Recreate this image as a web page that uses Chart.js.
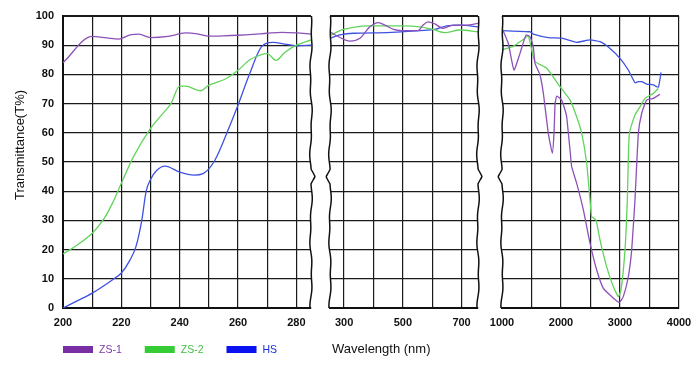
<!DOCTYPE html>
<html>
<head>
<meta charset="utf-8">
<script src="https://cdn.jsdelivr.net/npm/chart.js@4.4.1/dist/chart.umd.min.js"></script>
<style>
  body { margin: 0; background: #fff; }
  #wrap { position: relative; width: 700px; height: 371px; }
  #wrap canvas { position: absolute; left: 0; top: 0; }
</style>
</head>
<body>
<div id="wrap">
  <canvas id="uv" width="700" height="371"></canvas>
  <canvas id="vis" width="700" height="371"></canvas>
  <canvas id="ir" width="700" height="371"></canvas>
</div>
<script>
var seriesNames = ['ZS-1', 'ZS-2', 'HS'];
var lineColors = ['#8c52b8', '#62d45c', '#3f52e2'];
var boxColors = ['#7a2ea3', '#35cc35', '#0a12f2'];
var textColors = ['#7b3aa8', '#44c044', '#1a2ae0'];

// grid positions and the labels shown under each panel
var uvGridTicks = [200, 210, 220, 230, 240, 250, 260, 270, 280];
var uvTickLabels = [200, 220, 240, 260, 280];
var visGridTicks = [300, 400, 500, 600, 700];
var visTickLabels = [300, 500, 700];
var irGridTicks = [1000, 1500, 2000, 2500, 3000, 3500, 4000];
var irTickLabels = [1000, 2000, 3000, 4000];

// panel 1 : 200 - 285 nm
var uvWaveZS1 = [200, 210, 215, 219, 223, 226, 230, 236, 242, 246, 250, 255, 260, 265, 270, 275, 280, 285];
var uvZS1 = [84, 93, 92.5, 92.1, 93.5, 93.8, 92.6, 93, 94.2, 93.9, 93.1, 93.2, 93.4, 93.7, 94.1, 94.4, 94.2, 93.8];
var uvWaveZS2 = [200, 204, 210, 214, 217, 220, 224, 230, 235, 237, 240, 242, 247, 250, 256, 260, 264, 268, 270, 273, 276, 280, 285];
var uvZS2 = [18.5, 21, 25.6, 30.5, 36, 42.7, 51.5, 61.5, 67.5, 70, 76, 76, 74.4, 76.3, 78.6, 81.4, 85, 86.8, 87.1, 84.8, 87.5, 90, 91.8];
var uvWaveHS = [200, 205, 210, 217, 220, 223, 225, 227, 228.5, 230, 232, 235, 240, 245, 248, 252, 257, 260, 264, 268, 272, 276, 280, 285];
var uvHS = [0, 2.5, 5.1, 9.7, 12, 16.5, 21, 30, 40, 44, 47, 48.6, 46.5, 45.5, 46, 50.5, 62, 69.5, 80.3, 89.4, 91, 90.4, 89.8, 90];

// panel 2 : visible
var visWaveZS1 = [252, 281, 320, 354, 388, 417, 439, 468, 496, 552, 569, 586, 609, 637, 671, 717, 756];
var visZS1 = [94.6, 92.9, 91.4, 92.4, 96.3, 97.7, 96.9, 95.4, 95, 95, 96.9, 98, 97.3, 95.8, 96.9, 96.9, 97.5];
var visWaveZS2 = [252, 286, 332, 388, 502, 558, 603, 643, 694, 756];
var visZS2 = [93.3, 95, 96.1, 96.6, 96.6, 96.3, 95.4, 94.3, 95.2, 94.6];
var visWaveHS = [252, 286, 332, 445, 558, 609, 649, 694, 756];
var visHS = [92.4, 93.5, 94.1, 94.3, 95, 95.4, 96.6, 96.9, 96.3];

// panel 3 : infrared
var irWaveZS1 = [1000, 1107, 1203, 1305, 1407, 1475, 1530, 1560, 1644, 1701, 1785, 1853, 1882, 1900, 1930, 2011, 2068, 2096, 2153, 2181, 2266, 2379, 2492, 2605, 2718, 2859, 2988, 3056, 3141, 3198, 3254, 3311, 3368, 3452, 3565, 3678];
var irZS1 = [95.8, 90.6, 81.5, 87.2, 93.5, 92.9, 89.5, 83.8, 79.8, 73.5, 59.8, 53, 60, 70, 72.6, 71.2, 67.8, 65.5, 54.1, 48.4, 42.7, 33.6, 22.2, 13, 6.7, 3.9, 1.9, 3.9, 10.7, 19.9, 37, 59.8, 66.7, 71.2, 71.8, 73.2];
var irWaveZS2 = [1000, 1193, 1390, 1447, 1503, 1560, 1758, 1983, 2153, 2265, 2351, 2436, 2492, 2520, 2593, 2661, 2774, 2887, 2972, 3017, 3085, 3124, 3158, 3254, 3339, 3424, 3565, 3650];
var irZS2 = [88.4, 89.7, 92.4, 93.2, 88.4, 84.4, 82.1, 75.8, 71.2, 65.5, 59.8, 49.5, 37, 31.3, 30.1, 23.3, 14.1, 7.3, 3.9, 6.2, 19.9, 37, 59.8, 66.1, 68.9, 71.8, 73.5, 75.2];
var irWaveHS = [1000, 1475, 1530, 1785, 2011, 2265, 2492, 2661, 2831, 3000, 3141, 3254, 3311, 3368, 3452, 3565, 3650, 3695];
var irHS = [95, 94.6, 93.8, 92.6, 92.4, 91, 91.8, 91.2, 88.9, 85.5, 81.5, 77.2, 77.5, 77.5, 76.7, 76.4, 75.6, 80.7];

var fontFamily = '"Liberation Sans", Arial, sans-serif';
Chart.defaults.font.family = fontFamily;

function toPoints(xs, ys) {
  return xs.map(function(x, i) { return { x: x, y: ys[i] }; });
}

// wavy line where the axis is broken
function wavy(ctx, x, top, bottom, dir) {
  ctx.beginPath();
  for (var y = top; y <= bottom; y += 1) {
    var t = (y - top) / (bottom - top);
    var dx = Math.sin(t * 23) * 0.8 + Math.sin(t * 61 + 1) * 0.5;
    dx += dir * 4 * Math.max(0, 1 - Math.abs(t - 0.55) / 0.025);
    if (y === top) ctx.moveTo(x + dx, y); else ctx.lineTo(x + dx, y);
  }
  ctx.stroke();
}

function edgePlugin(left, right) {
  return {
    id: 'breakEdges',
    afterDraw: function(chart) {
      var a = chart.chartArea, ctx = chart.ctx;
      ctx.save();
      ctx.strokeStyle = '#111';
      ctx.lineWidth = 1.5;
      if (left) wavy(ctx, a.left, a.top, a.bottom, -1);
      if (right) wavy(ctx, a.right, a.top, a.bottom, 1);
      ctx.restore();
    }
  };
}

var textPlugin = {
  id: 'legendAndTitles',
  afterDraw: function(chart) {
    var ctx = chart.ctx;
    ctx.save();
    ctx.fillStyle = '#111';
    ctx.textAlign = 'center';
    ctx.textBaseline = 'middle';
    ctx.font = '13px ' + fontFamily;
    ctx.translate(20, 145);
    ctx.rotate(-Math.PI / 2);
    ctx.fillText('Transmittance(T%)', 0, 0);
    ctx.restore();

    ctx.save();
    ctx.textBaseline = 'middle';
    ctx.textAlign = 'left';
    ctx.font = '13px ' + fontFamily;
    ctx.fillStyle = '#111';
    ctx.fillText('Wavelength (nm)', 332, 349);

    ctx.font = '10.5px ' + fontFamily;
    var x = 63;
    for (var i = 0; i < seriesNames.length; i++) {
      ctx.fillStyle = boxColors[i];
      ctx.fillRect(x, 346, 30, 7);
      ctx.fillStyle = textColors[i];
      ctx.fillText(seriesNames[i], x + 36, 350);
      x += 36 + ctx.measureText(seriesNames[i]).width + 23;
    }
    ctx.restore();
  }
};

function makePanel(id, xMin, xMax, gridTicks, labels, series, pad, isFirst, edges, tension) {
  return new Chart(document.getElementById(id), {
    type: 'line',
    data: {
      datasets: series.map(function(s, i) {
        return {
          label: seriesNames[i],
          data: s,
          borderColor: lineColors[i],
          borderWidth: 1.3,
          pointRadius: 0,
          tension: tension,
          cubicInterpolationMode: tension > 0.3 ? 'monotone' : 'default'
        };
      })
    },
    options: {
      responsive: false,
      animation: false,
      devicePixelRatio: 1,
      layout: { padding: pad },
      plugins: { legend: { display: false }, tooltip: { enabled: false } },
      scales: {
        x: {
          type: 'linear',
          min: xMin,
          max: xMax,
          afterBuildTicks: function(s) {
            s.ticks = gridTicks.map(function(v) { return { value: v }; });
          },
          afterFit: function(s) { s.height = 63; },
          ticks: {
            autoSkip: false,
            maxRotation: 0,
            padding: 8,
            color: '#111',
            font: { size: 11, weight: 'bold' },
            callback: function(v) { return labels.indexOf(v) >= 0 ? String(v) : ''; }
          },
          grid: {
            drawTicks: false,
            lineWidth: 1.2,
            color: function(c) {
              if (edges[0] && c.tick && c.tick.value === xMin) return 'rgba(0,0,0,0)';
              return '#1a1a1a';
            }
          },
          border: { display: true, color: '#111', width: 2 }
        },
        y: {
          min: 0,
          max: 100,
          afterFit: function(s) { s.width = isFirst ? 63 : 0; },
          ticks: {
            stepSize: 10,
            display: isFirst,
            padding: 9,
            color: '#111',
            font: { size: 11, weight: 'bold' }
          },
          grid: {
            drawTicks: false,
            color: '#1a1a1a',
            lineWidth: function(c) { return c.tick && c.tick.value === 100 ? 2 : 1.2; }
          },
          border: { display: isFirst, color: '#111', width: 2 }
        }
      }
    },
    plugins: [edgePlugin(edges[0], edges[1])].concat(isFirst ? [textPlugin] : [])
  });
}

makePanel('uv', 200, 285, uvGridTicks, uvTickLabels,
  [toPoints(uvWaveZS1, uvZS1), toPoints(uvWaveZS2, uvZS2), toPoints(uvWaveHS, uvHS)],
  { left: 0, right: 389, top: 16, bottom: 0 }, true, [false, true], 0.4);

makePanel('vis', 252, 756, visGridTicks, visTickLabels,
  [toPoints(visWaveZS1, visZS1), toPoints(visWaveZS2, visZS2), toPoints(visWaveHS, visHS)],
  { left: 330, right: 222, top: 16, bottom: 0 }, false, [true, true], 0.4);

makePanel('ir', 1000, 4000, irGridTicks, irTickLabels,
  [toPoints(irWaveZS1, irZS1), toPoints(irWaveZS2, irZS2), toPoints(irWaveHS, irHS)],
  { left: 502, right: 21, top: 16, bottom: 0 }, false, [true, false], 0.15);
</script>
</body>
</html>
